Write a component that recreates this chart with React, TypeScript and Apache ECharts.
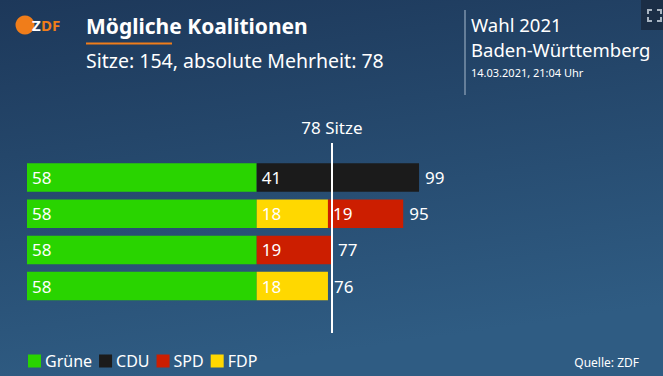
import React, { useEffect, useRef } from "react";
import * as echarts from "echarts";

const categories = ["Grüne + CDU", "Grüne + FDP + SPD", "Grüne + SPD", "Grüne + FDP"];
const gruene = [58, 58, 58, 58];
const cdu = [41, null, null, null];
const fdp = [null, 18, null, 18];
const spd = [null, 19, 19, null];
const totalSeats = 154;
const majorityLabel = "78 Sitze";
const legendNames = ["Grüne", "CDU", "SPD", "FDP"];

const FONT = "Noto Sans";

export default function App() {
  const ref = useRef<HTMLDivElement>(null);
  useEffect(() => {
    document.body.style.margin = "0";
    const chart = echarts.init(ref.current!, undefined, { renderer: "svg" });
    const totals = categories.map((_, i) => [
      (gruene[i] || 0) + (cdu[i] || 0) + (fdp[i] || 0) + (spd[i] || 0),
      i,
    ]);
    const segLabel = {
      show: true,
      position: "insideLeft",
      distance: 5,
      color: "#ffffff",
      fontSize: 17,
      fontFamily: FONT,
    };
    const corner = (pts: number[][]) => ({
      type: "polyline",
      shape: { points: pts },
      style: { stroke: "#a9b5c2", lineWidth: 2, fill: "none" },
      z: 20,
    });
    chart.setOption({
      animation: false,
      backgroundColor: {
        type: "linear",
        x: 0,
        y: 0,
        x2: 0.25,
        y2: 1,
        colorStops: [
          { offset: 0, color: "#1d385a" },
          { offset: 1, color: "#2f5c83" },
        ],
      },
      textStyle: { fontFamily: FONT },
      grid: [
        { left: 27, right: 42, top: 159.4, bottom: 71.8 },
        { left: 27, right: 42, top: 143, bottom: 43 },
      ],
      xAxis: [
        { type: "value", min: 0, max: 150, show: false, gridIndex: 0 },
        { type: "value", min: 0, max: 150, show: false, gridIndex: 1 },
      ],
      yAxis: [
        { type: "category", data: categories, inverse: true, show: false, gridIndex: 0 },
        { type: "value", min: 0, max: 1, show: false, gridIndex: 1 },
      ],
      legend: {
        data: legendNames,
        left: 28,
        top: 353,
        padding: 0,
        itemWidth: 13,
        itemHeight: 13,
        itemGap: 7,
        icon: "rect",
        textStyle: { color: "#ffffff", fontSize: 16, fontFamily: FONT, padding: [0, 0, 0, -1] },
        selectedMode: false,
      },
      series: [
        {
          name: "Grüne",
          type: "bar",
          stack: "k",
          data: gruene,
          barWidth: 28.5,
          itemStyle: { color: "#29d400" },
          label: segLabel,
        },
        {
          name: "CDU",
          type: "bar",
          stack: "k",
          data: cdu,
          barWidth: 28.5,
          itemStyle: { color: "#1b1b1b" },
          label: segLabel,
        },
        {
          name: "FDP",
          type: "bar",
          stack: "k",
          data: fdp,
          barWidth: 28.5,
          itemStyle: { color: "#ffd800" },
          label: segLabel,
        },
        {
          name: "SPD",
          type: "bar",
          stack: "k",
          data: spd,
          barWidth: 28.5,
          itemStyle: { color: "#cc1e00" },
          label: segLabel,
        },
        {
          name: "Summe",
          type: "scatter",
          data: totals,
          symbolSize: 0.01,
          itemStyle: { color: "#2a527a", opacity: 1 },
          label: {
            show: true,
            position: "right",
            distance: 6,
            color: "#ffffff",
            opacity: 1,
            fontSize: 17,
            fontFamily: FONT,
            formatter: (p: any) => String(p.value[0]),
          },
          z: 5,
        },
        {
          name: "Mehrheit",
          type: "line",
          xAxisIndex: 1,
          yAxisIndex: 1,
          data: [],
          z: 10,
          markLine: {
            silent: true,
            symbol: "none",
            data: [{ xAxis: totalSeats / 2 }],
            lineStyle: { color: "#ffffff", width: 2, type: "solid" },
            label: {
              show: true,
              position: "end",
              distance: 7,
              formatter: majorityLabel,
              color: "#ffffff",
              fontSize: 17,
              fontFamily: FONT,
            },
          },
        },
      ],
      graphic: [
        { type: "circle", shape: { cx: 25, cy: 25, r: 9.5 }, style: { fill: "#f07d1a" } },
        {
          type: "text",
          x: 32,
          y: 25,
          style: {
            text: "Z",
            fill: "#ffffff",
            font: "bold 15px " + FONT,
            textVerticalAlign: "middle",
          },
        },
        {
          type: "text",
          x: 41,
          y: 25,
          style: {
            text: "DF",
            fill: "#f07d1a",
            font: "bold 15px " + FONT,
            textVerticalAlign: "middle",
          },
        },
        {
          type: "text",
          x: 86,
          y: 26,
          style: {
            text: "Mögliche Koalitionen",
            fill: "#ffffff",
            font: "bold 21px " + FONT,
            textVerticalAlign: "middle",
          },
        },
        { type: "rect", shape: { x: 86, y: 42.5, width: 86, height: 2 }, style: { fill: "#f07d1a" } },
        {
          type: "text",
          x: 86,
          y: 60,
          style: {
            text: "Sitze: 154, absolute Mehrheit: 78",
            fill: "#ffffff",
            font: "19.5px " + FONT,
            textVerticalAlign: "middle",
          },
        },
        {
          type: "line",
          shape: { x1: 465, y1: 10, x2: 465, y2: 95 },
          style: { stroke: "#7d93ab", lineWidth: 1.5 },
        },
        {
          type: "text",
          x: 471,
          y: 24,
          style: {
            text: "Wahl 2021",
            fill: "#ffffff",
            font: "18.5px " + FONT,
            textVerticalAlign: "middle",
          },
        },
        {
          type: "text",
          x: 471,
          y: 49,
          style: {
            text: "Baden-Württemberg",
            fill: "#ffffff",
            font: "18.5px " + FONT,
            textVerticalAlign: "middle",
          },
        },
        {
          type: "text",
          x: 471,
          y: 72,
          style: { text: "14.03.2021, 21:04 Uhr", fill: "#ffffff", font: "11px " + FONT, textVerticalAlign: "middle" },
        },
        { type: "rect", shape: { x: 641, y: 0, width: 22, height: 30 }, style: { fill: "#1b2e46" }, z: 15 },
        corner([[648, 14], [648, 10], [652, 10]]),
        corner([[657, 10], [661, 10], [661, 14]]),
        corner([[648, 17], [648, 21], [652, 21]]),
        corner([[657, 21], [661, 21], [661, 17]]),
        {
          type: "text",
          x: 639,
          y: 362,
          style: {
            text: "Quelle: ZDF",
            fill: "#ffffff",
            font: "12px " + FONT,
            textAlign: "right",
            textVerticalAlign: "middle",
          },
        },
      ],
    });
    return () => chart.dispose();
  }, []);
  return <div ref={ref} style={{ position: "fixed", left: 0, top: 0, width: 663, height: 376 }} />;
}
